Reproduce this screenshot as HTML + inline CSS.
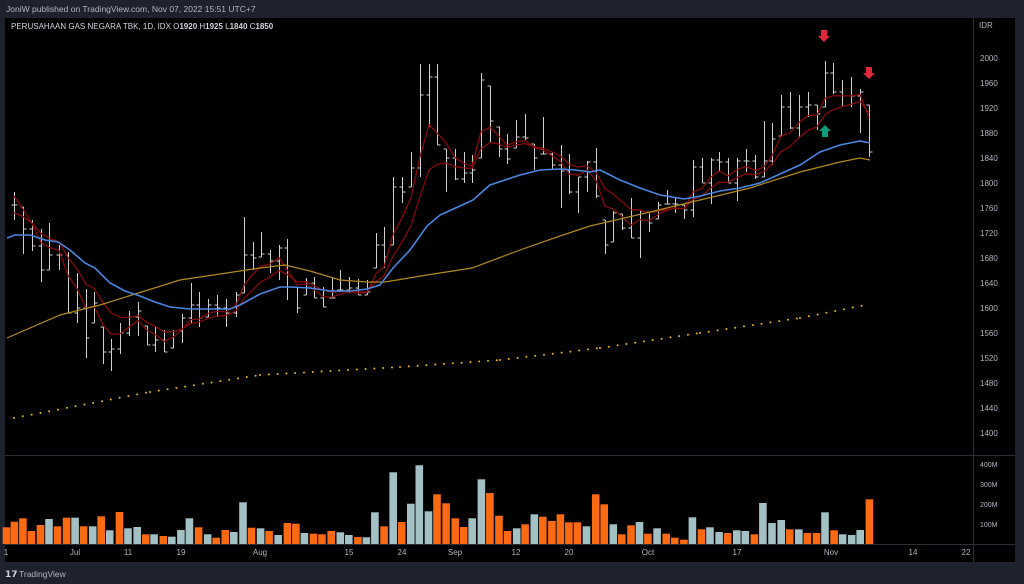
<!DOCTYPE html>
<html><head><meta charset="utf-8"><style>
html,body{margin:0;padding:0;background:#1e222d;width:1024px;height:584px;overflow:hidden}
svg{display:block}
text{font-family:"Liberation Sans",sans-serif}
</style></head><body>
<svg id="s" width="1024" height="584" xmlns="http://www.w3.org/2000/svg">
<rect x="0" y="0" width="1024" height="584" fill="#1e222d"/>
<rect x="5" y="18" width="1010" height="544" fill="#000"/>
<line x1="5" y1="455.5" x2="1015" y2="455.5" stroke="#2a2e39"/>
<line x1="5" y1="544.5" x2="1015" y2="544.5" stroke="#2a2e39"/>
<line x1="973.5" y1="18" x2="973.5" y2="562" stroke="#2a2e39"/>
<text x="6" y="12" font-size="8.5" fill="#b2b5be">JoniW published on TradingView.com, Nov 07, 2022 15:51 UTC+7</text>
<text x="11" y="29" font-size="8" fill="#d1d4dc">PERUSAHAAN GAS NEGARA TBK, 1D, IDX  O<tspan font-weight="bold">1920</tspan>  H<tspan font-weight="bold">1925</tspan>  L<tspan font-weight="bold">1840</tspan>  C<tspan font-weight="bold">1850</tspan></text>
<text x="979" y="28" font-size="8" fill="#b2b5be">IDR</text>
<text x="5" y="577" font-size="9" font-weight="bold" fill="#d1d4dc">𝟭𝟳</text>
<text x="19" y="577" font-size="8.5" fill="#b2b5be">TradingView</text>
<g id="g"></g>
</svg>
<script>
var g=document.getElementById('g'),h='';
function Y(p){return 58+(2000-p)*0.625;}
for(var p=1400;p<=2040;p+=40){h+='<text x="980" y="'+(Y(p)+3)+'" font-size="8" fill="#b2b5be">'+p+'</text>';}
h+='<rect x="974" y="18" width="41" height="18" fill="#000"/><text x="979" y="28" font-size="8" fill="#b2b5be">IDR</text>';
[["400M",464],["300M",484],["200M",504],["100M",524]].forEach(function(a){h+='<text x="980" y="'+(a[1]+3)+'" font-size="7" fill="#b2b5be">'+a[0]+'</text>';});
[["1",6],["Jul",75],["11",128],["19",181],["Aug",260],["15",349],["24",402],["Sep",455],["12",516],["20",569],["Oct",648],["17",737],["Nov",831],["14",913],["22",966]].forEach(function(a){h+='<text x="'+a[1]+'" y="555" font-size="8" fill="#b2b5be" text-anchor="middle">'+a[0]+'</text>';});
// volume
var V=[[10,232,0],[22,215,0],[35,205,0],[48,243,0],[62,225,0],[75,207,1],[88,229,0],[102,203,0],[115,203,1],[128,229,0],[142,229,1],[155,199,0],[168,241,1],[183,186,0],[196,235,1],[210,231,1],[223,253,0],[236,253,1],[250,258,0],[263,260,1],[277,240,1],[290,205,1],[304,232,0],[318,253,1],[331,263,0],[345,240,0],[358,246,1],[372,157,1],[385,233,0],[399,235,1],[412,243,0],[426,255,1],[440,219,0],[453,221,0],[466,249,1],[480,251,0],[493,253,0],[507,243,0],[521,247,1],[534,255,1],[548,261,0],[561,262,1],[574,187,1],[588,229,0],[602,67,1],[615,216,0],[629,161,1],[642,46,1],[656,184,1],[669,133,0],[683,160,0],[697,205,0],[710,231,0],[723,205,1],[737,88,1],[750,129,0],[764,197,0],[777,243,0],[791,235,1],[804,223,0],[818,193,1],[831,200,0],[845,213,0],[858,193,0],[871,217,0],[884,217,0],[898,229,1],[912,133,0],[925,163,0],[939,223,1],[952,253,0],[966,226,0],[979,216,1],[992,251,0],[1006,235,1],[1020,251,0],[1033,263,0],[1047,269,0],[1060,202,1],[1074,238,0],[1087,232,1],[1101,246,1],[1114,249,0],[1128,241,1],[1141,243,1],[1155,253,0],[1168,159,1],[1182,219,1],[1196,210,1],[1209,238,0],[1223,238,1],[1236,249,0],[1250,249,0],[1263,187,1],[1277,241,0],[1290,253,1],[1304,255,1],[1317,240,1],[1331,148,0]];
V.forEach(function(v){var x=v[0]/1.531,y=450+v[1]/3;h+='<rect x="'+(x-3.8).toFixed(1)+'" y="'+y.toFixed(1)+'" width="7.6" height="'+(544-y).toFixed(1)+'" fill="'+(v[2]?'#a3c1c4':'#fa6a12')+'"/>';});
// bars
var B=[[14,192,220,205],[23,207,254,229],[32,220,251,246],[41,229,282,270],[49,223,270,255],[59,245,270,255],[68,252,313,313],[77,273,323,308],[86,289,358,338],[94,292,323,303],[103,327,364,352],[111,339,371,349],[120,323,354,333],[129,311,336,317],[138,302,336,311],[147,326,345,345],[155,326,352,340],[164,330,352,352],[173,330,348,331],[182,314,343,318],[191,283,324,305],[199,292,327,318],[208,299,317,305],[217,295,317,308],[226,299,327,313],[236,292,317,295],[244,217,293,255],[253,242,270,258],[261,232,257,254],[270,250,273,261],[279,245,280,248],[287,239,300,287],[297,287,313,308],[306,278,295,283],[314,277,298,298],[323,287,307,307],[332,277,298,298],[340,270,290,290],[349,277,293,288],[358,279,295,295],[367,280,295,292],[376,233,268,245],[384,227,268,257],[393,177,245,187],[402,177,203,192],[411,152,187,168],[420,64,177,95],[429,64,127,77],[437,64,145,145],[446,149,192,158],[455,149,180,179],[464,152,183,173],[472,155,183,170],[481,73,158,80],[490,86,142,121],[499,127,157,149],[507,134,164,159],[516,120,148,137],[525,114,140,138],[534,144,170,158],[543,117,154,154],[552,152,170,165],[561,145,208,171],[569,154,194,192],[578,177,213,177],[587,161,192,162],[596,148,198,196],[605,220,254,245],[613,211,242,213],[622,214,230,228],[631,198,238,238],[640,210,258,211],[649,212,232,223],[658,202,219,205],[667,190,204,204],[675,198,213,204],[684,205,219,210],[693,160,217,167],[702,158,183,183],[711,158,204,160],[719,152,172,162],[728,158,183,183],[737,158,201,161],[746,149,172,161],[755,155,179,177],[764,121,177,161],[772,123,165,139],[781,95,136,107],[790,92,129,128],[799,95,138,107],[808,92,117,105],[817,105,130,114],[825,61,107,73],[833,63,94,92],[842,80,107,96],[851,77,107,96],[860,89,133,92],[869,105,157,152]];
var prev=B[0][3];
B.forEach(function(b){var x=b[0]+0.5,o=Math.min(Math.max(prev,b[1]),b[2]);
h+='<path d="M'+x+' '+b[1]+'V'+b[2]+'M'+(x-3)+' '+o+'H'+x+'M'+x+' '+b[3]+'H'+(x+3)+'" stroke="#d0d0d0" stroke-width="1" fill="none"/>';prev=b[3];});
function ema(n,start){var k=2/(n+1),e=start,pts=[];B.forEach(function(b){e=e+(b[3]-e)*k;pts.push(b[0]+','+e.toFixed(1));});return pts.join(' ');}
h+='<polyline points="'+ema(4,190)+'" fill="none" stroke="#8e0a0a" stroke-width="1.2"/>';
h+='<polyline points="'+ema(8,215)+'" fill="none" stroke="#8e0a0a" stroke-width="1.2"/>';
h+='<polyline points="7,338 60,315 100,305 180,280 260,268 285,265 310,271 340,280 367,282 385,282 427,275 472,268 520,250 560,236 590,226 650,212 700,200 750,188 800,172 840,162 860,158 870,160" fill="none" stroke="#b08a20" stroke-width="1.2"/>';
h+='<polyline points="7,238 15,235 30,235 45,240 58,242 70,250 85,263 95,268 110,283 125,291 140,296 155,302 170,307 190,309 230,309 240,305 260,294 280,287 290,287 310,288 330,291 350,291 367,289 380,285 393,268 410,250 427,226 440,215 460,206 473,200 490,185 505,180 520,175 540,170 560,169 575,170 590,172 600,170 620,180 640,188 660,195 684,199 700,196 720,191 740,188 760,183 780,174 800,165 820,152 840,145 860,141 870,143" fill="none" stroke="#4a86e0" stroke-width="1.6"/>';
var D=[[14,418],[150,392],[260,375],[400,367],[500,360],[600,348],[700,333],[800,318],[870,304]];
for(var i=0;i<D.length-1;i++){var a=D[i],c=D[i+1];for(var x=a[0];x<c[0];x+=8.8){var t=(x-a[0])/(c[0]-a[0]);h+='<circle cx="'+x.toFixed(1)+'" cy="'+(a[1]+t*(c[1]-a[1])).toFixed(1)+'" r="1" fill="#e8b820"/>';}}
function arrow(x,y,up,col){var s=up?-1:1;h+='<path d="M'+(x-3)+' '+(y-6*s)+'H'+(x+3)+'V'+y+'H'+(x+6)+'L'+x+' '+(y+6*s)+'L'+(x-6)+' '+y+'H'+(x-3)+'Z" fill="'+col+'"/>';}
arrow(824,36,false,'#e0283a');arrow(869,73,false,'#e0283a');arrow(825,131,true,'#0f9a7a');
g.innerHTML=h;
</script>
</body></html>
